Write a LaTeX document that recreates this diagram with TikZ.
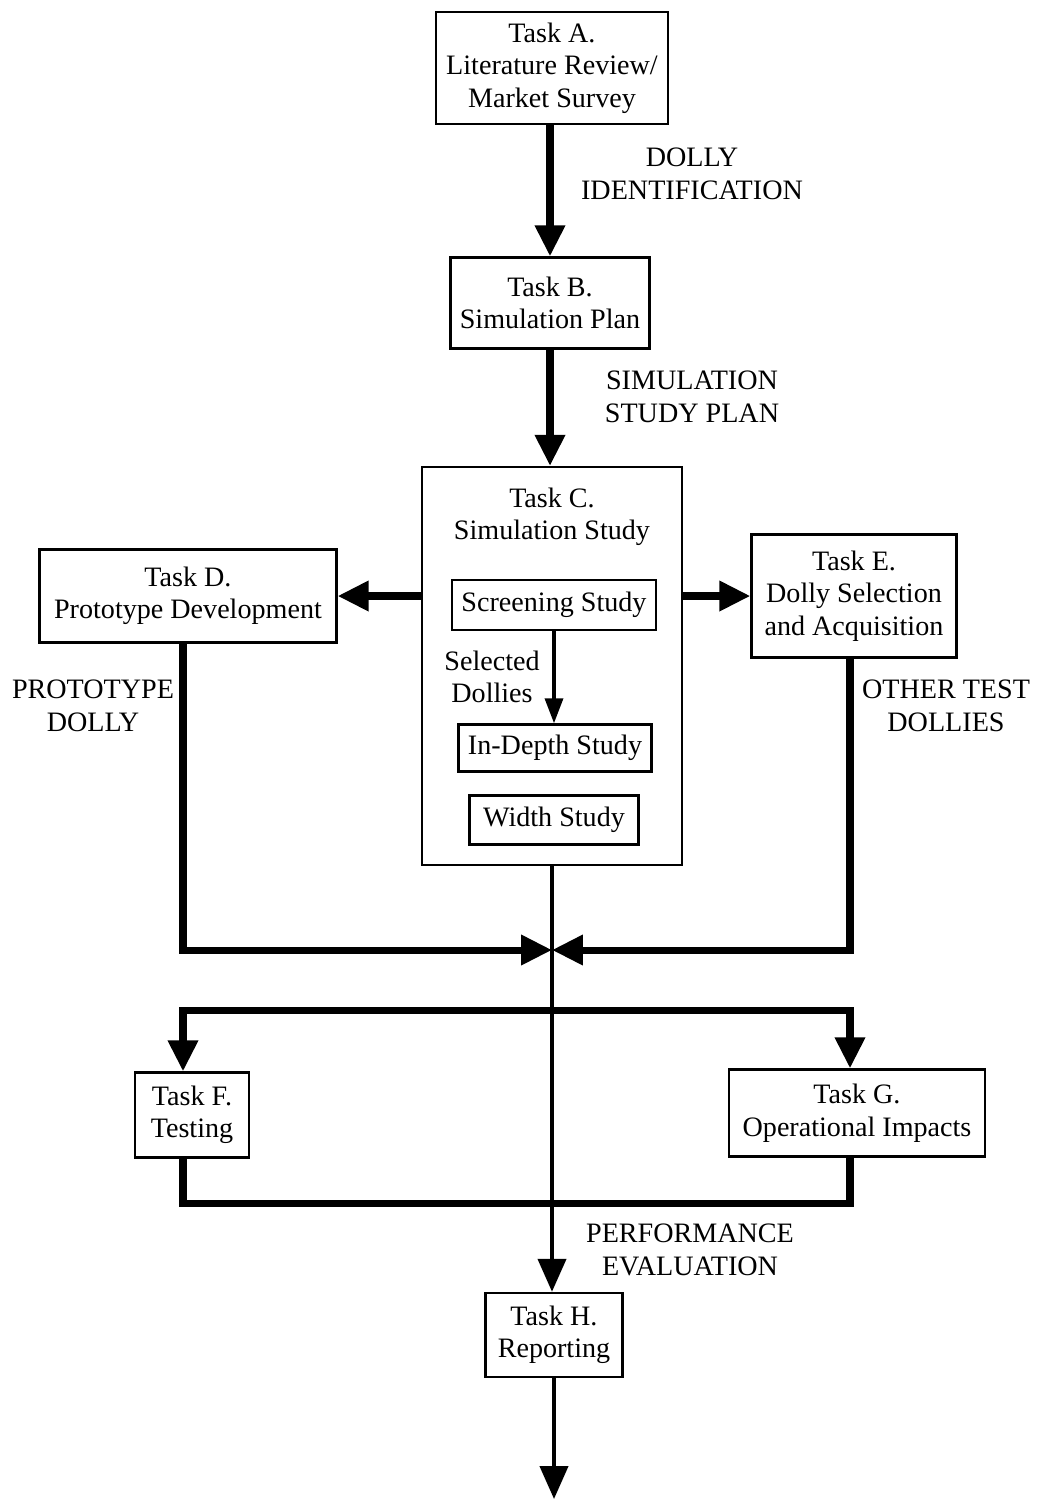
\documentclass[tikz,border=0pt]{standalone}
\usepackage{fontspec}
\setmainfont{Liberation Serif}
\usetikzlibrary{arrows.meta,positioning}

\tikzset{
  taskbox/.style={draw, line width=1.4pt, align=center, inner sep=2pt},
  subbox/.style={draw, line width=1.4pt, align=center, inner sep=2pt},
  flowlabel/.style={align=center, inner sep=0pt},
  thickline/.style={line width=4pt},
  thickarrow/.style={line width=4pt, -{Triangle[length=0.62cm,width=0.58cm]}},
  midarrow/.style={line width=2.4pt, -{Triangle[length=0.66cm,width=0.56cm]}},
  thinarrow/.style={line width=2pt, -{Triangle[length=0.5cm,width=0.36cm]}}
}

\begin{document}
\begin{tikzpicture}[x=0.02cm, y=-0.02cm, font=\fontsize{16}{18.5}\selectfont]
  \useasboundingbox (0,0) rectangle (1039,1499);

  % tasks
  \node[taskbox, minimum width=4.64cm, minimum height=2.24cm] (A) at (552,68)
    {Task A.\\Literature Review/\\Market Survey};
  \node[taskbox, minimum width=3.98cm, minimum height=1.82cm] (B) at (550,303)
    {Task B.\\Simulation Plan};
  \node[taskbox, minimum width=5.2cm, minimum height=7.96cm] (C) at (552,666) {};
  \node[flowlabel] (Ctitle) at (552,517) {Task C.\\Simulation Study};
  \node[subbox, minimum width=4.08cm, minimum height=1cm] (scr) at (554,605) {Screening Study};
  \node[subbox, minimum width=3.86cm, minimum height=0.94cm] (ind) at (555,748) {In-Depth Study};
  \node[subbox, minimum width=3.38cm, minimum height=0.98cm] (wid) at (554,820) {Width Study};
  \node[taskbox, minimum width=5.94cm, minimum height=1.86cm] (D) at (188,596)
    {Task D.\\Prototype Development};
  \node[taskbox, minimum width=4.1cm, minimum height=2.46cm] (E) at (854,596)
    {Task E.\\Dolly Selection\\and Acquisition};
  \node[taskbox, minimum width=2.28cm, minimum height=1.7cm] (F) at (192,1115)
    {Task F.\\Testing};
  \node[taskbox, minimum width=5.12cm, minimum height=1.74cm] (G) at (857,1113)
    {Task G.\\Operational Impacts};
  \node[taskbox, minimum width=2.74cm, minimum height=1.68cm] (H) at (554,1335)
    {Task H.\\Reporting};

  % labels
  \node[flowlabel] (lblA) at (692,174) {DOLLY\\IDENTIFICATION};
  \node[flowlabel] (lblB) at (692,397) {SIMULATION\\STUDY PLAN};
  \node[flowlabel] (lblsel) at (492,677) {Selected\\Dollies};
  \node[flowlabel] (lblD) at (93,706) {PROTOTYPE\\DOLLY};
  \node[flowlabel] (lblE) at (946,706) {OTHER TEST\\DOLLIES};
  \node[flowlabel] (lblH) at (690,1250) {PERFORMANCE\\EVALUATION};

  % junctions
  \coordinate (mj) at (552,950);
  \coordinate (lj) at (183,950);
  \coordinate (rj) at (850,950);
  \coordinate (ls) at (183,1010);
  \coordinate (rs) at (850,1010);
  \coordinate (lb) at (183,1203);
  \coordinate (rb) at (850,1203);
  \coordinate (out) at (554,1499);

  % connectors
  \draw[thickarrow] (A.south -| B.north) -- (B.north);
  \draw[thickarrow] (B.south) -- (B.south |- C.north);
  \draw[thickarrow] (C.west |- D.east) -- (D.east);
  \draw[thickarrow] (C.east |- E.west) -- (E.west);
  \draw[thinarrow] (scr.south) -- (scr.south |- ind.north);
  \draw[thickarrow] (D.south -| lj) -- (lj) -- (mj);
  \draw[thickarrow] (E.south -| rj) -- (rj) -- (mj);
  \draw[midarrow] (C.south) -- (C.south |- H.north);
  \draw[thickline, line cap=rect] (ls) -- (rs);
  \draw[thickarrow] (ls) -- (F.north -| ls);
  \draw[thickarrow] (rs) -- (G.north -| rs);
  \draw[thickline] (F.south -| lb) -- (lb) -- (rb) -- (G.south -| rb);
  \draw[midarrow] (H.south) -- (out);
\end{tikzpicture}
\end{document}
